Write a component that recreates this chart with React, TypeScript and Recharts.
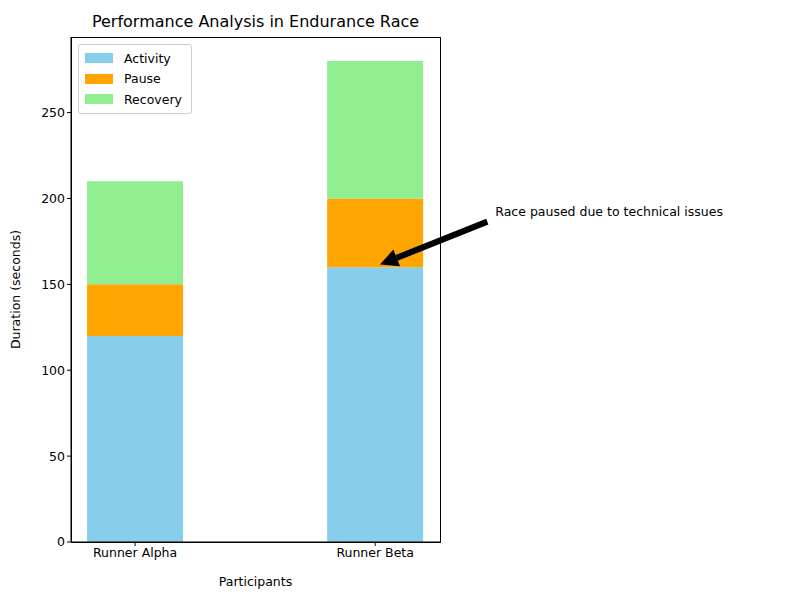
import { BarChart, Bar, XAxis, YAxis, ReferenceLine } from 'recharts';

const participants = ['Runner Alpha', 'Runner Beta'];
const activity = [120, 160];
const pause = [30, 40];
const recovery = [60, 80];
const yTicks = [0, 50, 100, 150, 200, 250];

const data = participants.map((name, i) => ({
  idx: i,
  name,
  activity: activity[i],
  pause: pause[i],
  recovery: recovery[i],
}));

const series = [
  { key: 'activity', label: 'Activity', color: '#87ceeb' },
  { key: 'pause', label: 'Pause', color: '#ffa500' },
  { key: 'recovery', label: 'Recovery', color: '#90ee90' },
];

const font = 'DejaVu Sans, sans-serif';

const LegendBox = () => (
  <div style={{ position: 'absolute', top: 44, left: 78, border: '1px solid #ccc', borderRadius: 3, background: '#fff', padding: '3px 6px', fontSize: 12.5, fontFamily: font, width: 100 }}>
    {series.map(s => (
      <div key={s.key} style={{ display: 'flex', alignItems: 'center', height: 20.5 }}>
        <span style={{ width: 28, height: 10, background: s.color, marginRight: 11 }} />
        {s.label}
      </div>
    ))}
  </div>
);

const Arrow = (props: any) => {
  const { x1, y1, x2, y2 } = props;
  const dx = x2 - x1, dy = y2 - y1;
  const len = Math.hypot(dx, dy);
  const ux = dx / len, uy = dy / len;
  const hl = 18, hw = 9;
  const bx = x2 - ux * hl, by = y2 - uy * hl;
  return (
    <g>
      <line x1={x1} y1={y1} x2={bx} y2={by} stroke="#000" strokeWidth={6} />
      <polygon points={`${x2},${y2} ${bx - uy * hw},${by + ux * hw} ${bx + uy * hw},${by - ux * hw}`} fill="#000" />
      <text x={x1 + 8} y={y1 - 6} fontSize={12.5} fontFamily={font} fill="#000">Race paused due to technical issues</text>
    </g>
  );
};

export default function App() {
  return (
    <div style={{ position: 'fixed', left: 0, top: 0, width: 800, height: 600, background: '#fff' }}>
      <div style={{ position: 'absolute', top: 12, left: 71, width: 369, textAlign: 'center', fontFamily: font, fontSize: 16 }}>
        Performance Analysis in Endurance Race
      </div>
      <BarChart width={800} height={600} data={data} margin={{ top: 37, right: 360, bottom: 0, left: 0 }}>
        <XAxis
          dataKey="idx"
          type="number"
          domain={[-0.267, 1.27]}
          ticks={[0, 1]}
          tickFormatter={(v: number) => participants[v]}
          stroke="#000"
          tick={{ fill: '#000', fontSize: 12.5, fontFamily: font }}
          tickSize={4}
          height={58}
          label={{ value: 'Participants', position: 'insideBottom', offset: 14, fill: '#000', fontSize: 12.5, fontFamily: font }}
        />
        <YAxis
          domain={[0, 294]}
          ticks={yTicks}
          stroke="#000"
          tick={{ fill: '#000', fontSize: 12.5, fontFamily: font }}
          tickSize={4}
          width={71}
          label={{ value: 'Duration (seconds)', angle: -90, position: 'insideLeft', offset: 16, fill: '#000', fontSize: 12.5, fontFamily: font, style: { textAnchor: 'middle' } }}
        />
        {series.map(s => (
          <Bar key={s.key} dataKey={s.key} name={s.label} stackId="a" fill={s.color} barSize={96} isAnimationActive={false} />
        ))}
        <ReferenceLine segment={[{ x: 1.467, y: 186.5 }, { x: 1.02, y: 161.5 }]} ifOverflow="visible" shape={<Arrow />} />
      </BarChart>
      <LegendBox />
      <div style={{ position: 'absolute', left: 71, top: 37, width: 368, height: 504, border: '1px solid #000', pointerEvents: 'none' }} />
    </div>
  );
}
